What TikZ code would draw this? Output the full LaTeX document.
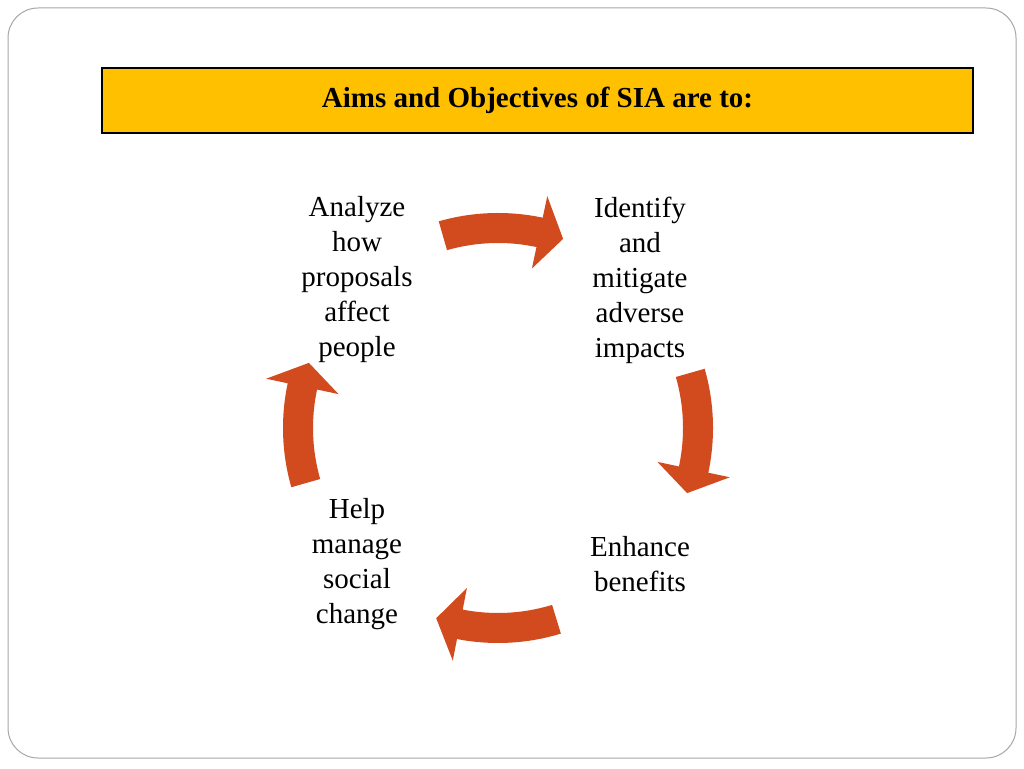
\documentclass[tikz,border=0pt]{standalone}
\usepackage{fontspec}
\setmainfont{Liberation Serif}
\definecolor{arr}{RGB}{210,75,30}
\definecolor{ttl}{RGB}{255,192,0}
\tikzset{
 lbl/.style={align=center,font=\fontsize{29}{35}\selectfont,inner sep=0pt},
 carrow/.style={fill=arr,draw=none}
}
\newcommand{\cyclearrow}[1]{%
 \fill[carrow] (#1:215pt) arc[start angle=#1,end angle=#1-28,radius=215pt] -- (#1-28:237pt) -- (#1-35:200pt) -- (#1-28:163pt) -- (#1-28:185pt) arc[start angle=#1-28,end angle=#1,radius=185pt] -- cycle;}
\begin{document}
\begin{tikzpicture}[x=1pt,y=1pt]
\useasboundingbox (0,0) rectangle (1024,768);
\draw[gray!70,line width=1pt,rounded corners=30pt] (8,10) rectangle (1016,760);
\node[draw=black,line width=2pt,fill=ttl,minimum width=871pt,minimum height=65pt,font=\fontsize{29}{35}\selectfont\bfseries] (title) at (537.5,667.5) {Aims and Objectives of SIA are to:};
\node[lbl] (a) at (357,488) {Analyze\\how\\proposals\\affect\\people};
\node[lbl] (b) at (640,488) {Identify\\and\\mitigate\\adverse\\impacts};
\node[lbl] (c) at (640,204) {Enhance\\benefits};
\node[lbl] (d) at (357,204) {Help\\manage\\social\\change};
\begin{scope}[shift={(498,340)}]
\cyclearrow{106}
\cyclearrow{16}
\cyclearrow{-73}
\cyclearrow{196}
\end{scope}
\end{tikzpicture}
\end{document}
